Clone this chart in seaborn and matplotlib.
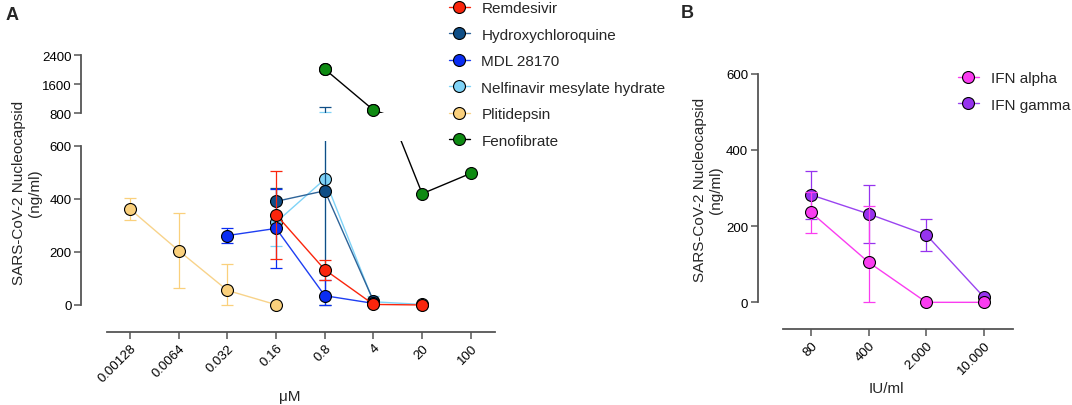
import numpy as np
import pandas as pd
import matplotlib
matplotlib.use("Agg")
import matplotlib.pyplot as plt
from matplotlib.ticker import NullLocator
import seaborn as sns

# ---------------- data ----------------
conc_A = [0.00128, 0.0064, 0.032, 0.16, 0.8, 4, 20, 100]
conc_A_labels = ["0.00128", "0.0064", "0.032", "0.16", "0.8", "4", "20", "100"]

remdesivir_conc = [0.16, 0.8, 4, 20]
remdesivir_mean = [341, 133, 2, 0]
remdesivir_err_lo = [166, 38, 0, 0]
remdesivir_err_hi = [166, 38, 0, 0]

hcq_conc = [0.16, 0.8, 4]
hcq_mean = [391, 431, 15]
hcq_err_lo = [49, 431, 0]
hcq_err_hi = [49, 526, 0]

mdl_conc = [0.032, 0.16, 0.8, 4]
mdl_mean = [262, 289, 35, 6]
mdl_err_lo = [29, 150, 35, 0]
mdl_err_hi = [29, 150, 60, 0]

nelf_conc = [0.16, 0.8, 4, 20]
nelf_mean = [312, 475, 12, 2]
nelf_err_lo = [91, 355, 12, 0]
nelf_err_hi = [91, 355, 22, 0]

plit_conc = [0.00128, 0.0064, 0.032, 0.16]
plit_mean = [362, 205, 55, 1]
plit_err_lo = [40, 142, 55, 0]
plit_err_hi = [40, 142, 98, 0]

feno_conc = [0.8, 4, 20, 100]
feno_mean = [2010, 880, 420, 497]

iu_conc = [80, 400, 2000, 10000]
iu_labels = ["80", "400", "2.000", "10.000"]
ifn_alpha_mean = [236, 105, 0, 0]
ifn_alpha_err_lo = [54, 105, 0, 0]
ifn_alpha_err_hi = [54, 149, 0, 0]
ifn_gamma_mean = [282, 232, 177, 13]
ifn_gamma_err_lo = [63, 76, 43, 0]
ifn_gamma_err_hi = [63, 76, 43, 0]

legend_A_order = ["Remdesivir", "Hydroxychloroquine", "MDL 28170",
                  "Nelfinavir mesylate hydrate", "Plitidepsin", "Fenofibrate"]
legend_B_order = ["IFN alpha", "IFN gamma"]

# ---------------- style ----------------
sns.set_style("ticks")
plt.rcParams["font.family"] = ["Liberation Sans", "DejaVu Sans"]
plt.rcParams["axes.edgecolor"] = "#555555"
plt.rcParams["xtick.color"] = "#555555"
plt.rcParams["ytick.color"] = "#555555"
plt.rcParams["xtick.labelcolor"] = "black"
plt.rcParams["ytick.labelcolor"] = "black"

W, H = 1072, 406
fig = plt.figure(figsize=(W / 100, H / 100), dpi=100)


def fx(px):
    return px / W


def fy(py):
    return 1 - py / H


TICK_FS = 9.5
LAB_FS = 11
MS = 8.6


def series(ax, conc, mean, lo, hi, color, lcolor, label, z):
    if lo is not None:
        ax.errorbar(conc, mean, yerr=[lo, hi], fmt="none", ecolor=color,
                    elinewidth=0.9, capsize=4.2, capthick=0.9, zorder=z - 0.5)
    df = pd.DataFrame({"conc": conc, "value": mean})
    sns.lineplot(data=df, x="conc", y="value", ax=ax, color=lcolor, lw=1.0,
                 marker="o", markersize=MS, markerfacecolor=color,
                 markeredgecolor="black", markeredgewidth=0.8,
                 errorbar=None, legend=False, label=label, zorder=z)


# ---------------- Panel A ----------------
c0 = 0.00128
stepA = 48.7
x0A = 130.0
def posA(i):
    return c0 * 5.0 ** i

xlimA = (posA(-1.0), posA(7.6))
left_px = x0A - 1.0 * stepA
right_px = x0A + 7.6 * stepA

top_lo = 795
top_px_bottom = 114 + (800 - top_lo) * 0.03625
axb = fig.add_axes([fx(left_px), fy(333), fx(right_px - left_px), (333 - 141.7) / H])
axt = fig.add_axes([fx(left_px), fy(top_px_bottom), fx(right_px - left_px),
                    (top_px_bottom - 54.2) / H])

specA = [
    (plit_conc, plit_mean, plit_err_lo, plit_err_hi, "#FAD07C", "#F8D38A", "Plitidepsin", 3),
    (feno_conc, feno_mean, None, None, "#0E8A12", "black", "Fenofibrate", 4),
    (nelf_conc, nelf_mean, nelf_err_lo, nelf_err_hi, "#7FD3F7", "#7FD3F7", "Nelfinavir mesylate hydrate", 5),
    (hcq_conc, hcq_mean, hcq_err_lo, hcq_err_hi, "#0F4E86", "#2E6499", "Hydroxychloroquine", 6),
    (mdl_conc, mdl_mean, mdl_err_lo, mdl_err_hi, "#0A2DF2", "#1E3EF2", "MDL 28170", 7),
    (remdesivir_conc, remdesivir_mean, remdesivir_err_lo, remdesivir_err_hi, "#FA250C", "#FA250C", "Remdesivir", 8),
]

for ax in (axb, axt):
    ax.set_xscale("log")
    for s in specA:
        series(ax, *s)
    ax.set_xlim(*xlimA)
    ax.xaxis.set_minor_locator(NullLocator())
    ax.set_xlabel("")
    ax.set_ylabel("")
    ax.patch.set_alpha(0)

axb.set_ylim(-102, 620)
axt.set_ylim(top_lo, 2450)

# redraw whole markers of the upper segment so they are not cut at the break
for conc, mean, lo, hi, color, lcolor, label, z in specA:
    sub = pd.DataFrame({"conc": conc, "value": mean})
    sub = sub[sub["value"] >= top_lo]
    if len(sub):
        sns.scatterplot(data=sub, x="conc", y="value", ax=axt, color=color,
                        s=MS ** 2, edgecolor="black", linewidth=0.8,
                        zorder=z + 0.1, clip_on=False, legend=False)
axt.set_xlabel("")
axt.set_ylabel("")

axb.set_yticks([0, 200, 400, 600])
axt.set_yticks([800, 1600, 2400])
axb.set_xticks(conc_A)
axb.set_xticklabels(conc_A_labels, rotation=45, ha="right", va="top",
                    rotation_mode="anchor")
axt.set_xticks([])

for ax in (axb, axt):
    ax.spines["right"].set_visible(False)
    ax.spines["top"].set_visible(False)
    ax.spines["left"].set_linewidth(1.3)
    ax.spines["bottom"].set_linewidth(1.3)
    ax.tick_params(axis="both", length=5, width=1.1, labelsize=TICK_FS, pad=2)
axt.spines["bottom"].set_visible(False)
axb.spines["left"].set_bounds(0, 600)
axt.spines["left"].set_bounds(800, 2400)
axb.spines["bottom"].set_bounds(posA(-0.47), posA(7.5))

hA, lA = axb.get_legend_handles_labels()
hmap = dict(zip(lA, hA))
fig.legend([hmap[k] for k in legend_A_order], legend_A_order,
           loc="upper left", bbox_to_anchor=(fx(449), fy(2.0)),
           frameon=False, fontsize=11, borderpad=0, handlelength=1.37,
           handletextpad=0.75, labelspacing=0.82, borderaxespad=0)

fig.text(fx(27), fy(193), "SARS-CoV-2 Nucleocapsid\n(ng/ml)", rotation=90,
         ha="center", va="center", multialignment="center", fontsize=LAB_FS)
fig.text(fx(290), fy(397), "\u03bcM", ha="center", va="center", fontsize=LAB_FS)
fig.text(fx(6), fy(15), "A", ha="left", va="center", fontsize=13, fontweight="bold")

# ---------------- Panel B ----------------
stepB = 57.7
x0B = 811.0
def posB(i):
    return 80.0 * 5.0 ** i

leftB = x0B - 0.92 * stepB
rightB = x0B + 3.55 * stepB
axB = fig.add_axes([fx(leftB), fy(330), fx(rightB - leftB), (330 - 70.9) / H])
axB.set_xscale("log")
series(axB, iu_conc, ifn_gamma_mean, ifn_gamma_err_lo, ifn_gamma_err_hi,
       "#9633EE", "#9A44F0", "IFN gamma", 3)
series(axB, iu_conc, ifn_alpha_mean, ifn_alpha_err_lo, ifn_alpha_err_hi,
       "#FA3CF0", "#FA3CF0", "IFN alpha", 4)
axB.set_xlim(posB(-0.92), posB(3.55))
axB.set_ylim(-70, 610)
axB.xaxis.set_minor_locator(NullLocator())
axB.set_xticks(iu_conc)
axB.set_xticklabels(iu_labels, rotation=45, ha="right", va="top",
                    rotation_mode="anchor")
axB.set_yticks([0, 200, 400, 600])
axB.set_xlabel("")
axB.set_ylabel("")
axB.patch.set_alpha(0)
axB.spines["right"].set_visible(False)
axB.spines["top"].set_visible(False)
axB.spines["left"].set_linewidth(1.3)
axB.spines["bottom"].set_linewidth(1.3)
axB.spines["left"].set_bounds(0, 600)
axB.spines["bottom"].set_bounds(posB(-0.49), posB(3.5))
axB.tick_params(axis="both", length=5, width=1.1, labelsize=TICK_FS, pad=2)

hB, lB = axB.get_legend_handles_labels()
hmapB = dict(zip(lB, hB))
fig.legend([hmapB[k] for k in legend_B_order], legend_B_order,
           loc="upper left", bbox_to_anchor=(fx(957.7), fy(72)),
           frameon=False, fontsize=11, borderpad=0, handlelength=1.4,
           handletextpad=0.75, labelspacing=0.82, borderaxespad=0)

fig.text(fx(708), fy(190), "SARS-CoV-2 Nucleocapsid\n(ng/ml)", rotation=90,
         ha="center", va="center", multialignment="center", fontsize=LAB_FS)
fig.text(fx(886), fy(389), "IU/ml", ha="center", va="center", fontsize=LAB_FS)
fig.text(fx(681), fy(14), "B", ha="left", va="center", fontsize=13, fontweight="bold")

fig.savefig("out.png", dpi=100)
